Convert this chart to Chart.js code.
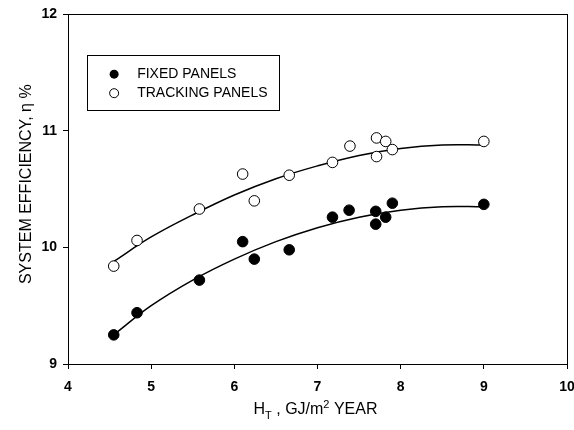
<!DOCTYPE html>
<html>
<head>
<meta charset="utf-8">
<script src="https://cdn.jsdelivr.net/npm/chart.js@4.4.0/dist/chart.umd.min.js"></script>
<style>
html,body{margin:0;padding:0;background:#fff;overflow:hidden;}
#wrap{width:590px;height:430px;position:relative;}
</style>
</head>
<body>
<div id="wrap"><canvas id="c" width="590" height="430"></canvas></div>
<script>
// ---- data ----
const xTicks = [4, 5, 6, 7, 8, 9, 10];
const yTicks = [9, 10, 11, 12];

const fixedX = [4.55, 4.83, 5.58, 6.10, 6.24, 6.66, 7.18, 7.38, 7.70, 7.70, 7.82, 7.90, 9.00];
const fixedY = [9.25, 9.44, 9.72, 10.05, 9.90, 9.98, 10.26, 10.32, 10.31, 10.20, 10.26, 10.38, 10.37];

const trackX = [4.55, 4.83, 5.58, 6.10, 6.24, 6.66, 7.18, 7.39, 7.71, 7.71, 7.82, 7.90, 9.00];
const trackY = [9.84, 10.06, 10.33, 10.63, 10.40, 10.62, 10.73, 10.87, 10.94, 10.78, 10.91, 10.84, 10.91];

const curveX      = [4.55, 5.0, 5.5, 6.0, 6.5, 7.0, 7.5, 8.0, 8.5, 9.0];
const fixedCurve  = [9.25, 9.50, 9.72, 9.90, 10.05, 10.17, 10.26, 10.32, 10.35, 10.35];
const trackCurve  = [9.88, 10.09, 10.28, 10.45, 10.59, 10.70, 10.79, 10.85, 10.88, 10.88];

const legendLabels = ['FIXED PANELS', 'TRACKING PANELS'];
const yTitle = 'SYSTEM EFFICIENCY, \u03B7 %';

const FONT = '"Liberation Sans", Arial, Helvetica, sans-serif';

function pts(xs, ys){ return xs.map((x,i)=>({x:x, y:ys[i]})); }

const framePlugin = {
  id: 'frame',
  afterDraw(chart){
    const ctx = chart.ctx, a = chart.chartArea;
    const xs = chart.scales.x, ys = chart.scales.y;
    ctx.save();
    // frame
    ctx.strokeStyle = '#000';
    ctx.lineWidth = 1;
    ctx.strokeRect(Math.round(a.left)+0.5, Math.round(a.top)+0.5, Math.round(a.right-a.left), Math.round(a.bottom-a.top));

    // legend box
    const lx = xs.getPixelForValue(4.23), rx = xs.getPixelForValue(6.54);
    const ty = ys.getPixelForValue(11.65), by = ys.getPixelForValue(11.18);
    ctx.strokeRect(Math.round(lx)+0.5, Math.round(ty)+0.5, Math.round(rx-lx), Math.round(by-ty));
    const mx = lx + 27;
    const rows = [ty + 19, ty + 38];
    ctx.font = '14px ' + FONT;
    ctx.textBaseline = 'middle';
    ctx.textAlign = 'left';
    ctx.fillStyle = '#000';
    // filled marker
    ctx.beginPath(); ctx.arc(mx, rows[0], 4.5, 0, Math.PI*2); ctx.fill();
    ctx.fillText(legendLabels[0], mx + 23, rows[0]);
    // open marker
    ctx.beginPath(); ctx.arc(mx, rows[1], 4.5, 0, Math.PI*2);
    ctx.fillStyle = '#fff'; ctx.fill(); ctx.strokeStyle = '#000'; ctx.lineWidth = 1; ctx.stroke();
    ctx.fillStyle = '#000';
    ctx.fillText(legendLabels[1], mx + 23, rows[1]);

    // y title
    ctx.save();
    ctx.translate(27, (a.top + a.bottom)/2 - 5);
    ctx.rotate(-Math.PI/2);
    ctx.font = '16px ' + FONT;
    ctx.textAlign = 'center';
    ctx.textBaseline = 'middle';
    ctx.fillText(yTitle, 0, 0);
    ctx.restore();

    // x title with subscript / superscript
    const parts = [
      {t:'H', f:16, dy:0},
      {t:'T', f:11, dy:5},
      {t:' , GJ/m', f:16, dy:0},
      {t:'2', f:11, dy:-6},
      {t:' YEAR', f:16, dy:0}
    ];
    let total = 0;
    parts.forEach(p=>{ ctx.font = p.f + 'px ' + FONT; p.w = ctx.measureText(p.t).width; total += p.w; });
    let x = (a.left + a.right)/2 - total/2 - 2;
    const baseY = a.bottom + 50;
    ctx.textAlign = 'left';
    ctx.textBaseline = 'alphabetic';
    parts.forEach(p=>{ ctx.font = p.f + 'px ' + FONT; ctx.fillText(p.t, x, baseY + p.dy); x += p.w; });
    ctx.restore();
  }
};

new Chart(document.getElementById('c'), {
  type: 'scatter',
  data: {
    datasets: [
      { label: legendLabels[0], data: pts(fixedX, fixedY), pointRadius: 5.3, pointHoverRadius: 5.3,
        pointBackgroundColor: '#000', pointBorderColor: '#000', pointBorderWidth: 1, showLine: false, order: 0 },
      { label: legendLabels[1], data: pts(trackX, trackY), pointRadius: 5.3, pointHoverRadius: 5.3,
        pointBackgroundColor: '#fff', pointBorderColor: '#000', pointBorderWidth: 1, showLine: false, order: 0 },
      { type: 'line', label: 'fit fixed', data: pts(curveX, fixedCurve), borderColor: '#000', borderWidth: 1.5,
        pointRadius: 0, fill: false, tension: 0.4, order: 1 },
      { type: 'line', label: 'fit tracking', data: pts(curveX, trackCurve), borderColor: '#000', borderWidth: 1.5,
        pointRadius: 0, fill: false, tension: 0.4, order: 1 }
    ]
  },
  options: {
    responsive: false,
    animation: false,
    events: [],
    layout: { padding: { left: 0, top: 14, right: 23, bottom: 0 } },
    plugins: { legend: { display: false }, tooltip: { enabled: false } },
    scales: {
      x: {
        type: 'linear', min: 4, max: 10,
        afterBuildTicks(s){ s.ticks = xTicks.map(v=>({value:v})); },
        afterFit(s){ s.height = 66; },
        grid: { drawOnChartArea: false, drawTicks: true, tickLength: 5, color: '#000', lineWidth: 1 },
        border: { display: true, color: '#000', width: 1 },
        ticks: { color: '#000', padding: 10, maxRotation: 0, autoSkip: false,
                 font: { family: FONT, size: 14, weight: 'bold' } },
        title: { display: false }
      },
      y: {
        type: 'linear', min: 9, max: 12,
        afterBuildTicks(s){ s.ticks = yTicks.map(v=>({value:v})); },
        afterFit(s){ s.width = 68; },
        grid: { drawOnChartArea: false, drawTicks: true, tickLength: 5, color: '#000', lineWidth: 1 },
        border: { display: true, color: '#000', width: 1 },
        ticks: { color: '#000', padding: 6, autoSkip: false,
                 font: { family: FONT, size: 14, weight: 'bold' } },
        title: { display: false }
      }
    }
  },
  plugins: [framePlugin]
});
</script>
</body>
</html>
